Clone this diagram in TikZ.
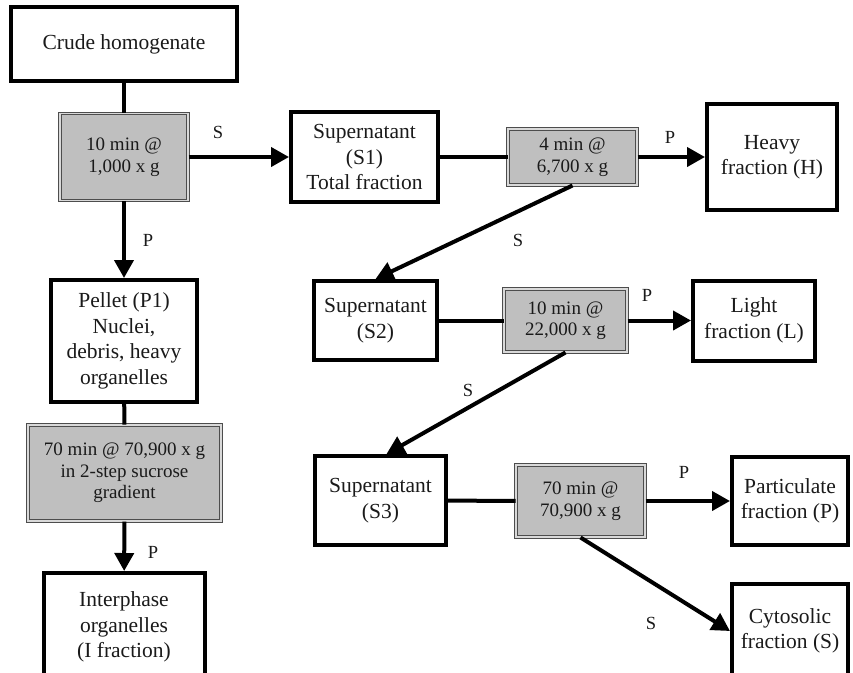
\documentclass[tikz,border=0pt]{standalone}
\usepackage{fontspec}
\setmainfont{Liberation Serif}
\usepackage{xcolor}
\definecolor{spinfill}{HTML}{BFBFBF}
\definecolor{spinedge}{HTML}{4D4D4D}
\definecolor{spingap}{HTML}{D9D9D9}
\definecolor{ink}{HTML}{1A1A1A}
\usepackage{tikz}
\usetikzlibrary{positioning,arrows.meta}

\begin{document}
\begin{tikzpicture}[x=1pt, y=-1pt,
    box/.style={draw=black, line width=4pt, fill=white, align=center,
                inner sep=0pt, text=ink, font=\fontsize{21.5}{25.5}\selectfont},
    spin/.style={draw=spinedge, line width=1pt, double=spingap,
                 double distance=1.6pt, fill=spinfill, align=center,
                 inner sep=0pt, text=ink, font=\fontsize{19}{21.5}\selectfont},
    link/.style={draw=black, line width=4pt},
    flow/.style={link, -{Triangle[length=18pt, width=19pt]}},
    lab/.style={text=ink, inner sep=0pt, font=\fontsize{18.5}{20}\selectfont}]
  \clip (0,0) rectangle (853,672);
  \fill[white] (0,0) rectangle (853,672);

  % left column: first spin and pellet
  \node[box, minimum width=226pt, minimum height=74pt] (crude) at (124,44) {Crude homogenate};
  \node[spin, minimum width=128pt, minimum height=87pt] (spin1) at (124,157) {10 min @\\1,000 x g};
  \node[box, minimum width=146pt, minimum height=122pt] (pellet) at (124,341)
    {Pellet (P1)\\Nuclei,\\debris, heavy\\organelles};
  \node[spin, minimum width=193pt, minimum height=96pt] (spin5) at (124.5,473)
    {70 min @ 70,900 x g\\in 2-step sucrose\\gradient};
  \node[box, minimum width=161pt, minimum height=108pt] (inter) at (124,627)
    {Interphase\\organelles\\(I fraction)};

  % supernatant chain
  \node[box, minimum width=147pt, minimum height=90pt] (sup1) at (364.5,157)
    {Supernatant\\(S1)\\Total fraction};
  \node[spin, minimum width=129pt, minimum height=56pt] (spin2) at (572.5,157) {4 min @\\6,700 x g};
  \node[box, minimum width=130pt, minimum height=106pt] (heavy) at (772,157) {Heavy\\fraction (H)};

  \node[box, minimum width=123pt, minimum height=79pt] (sup2) at (375.5,320.5) {Supernatant\\(S2)};
  \node[spin, minimum width=123pt, minimum height=63pt] (spin3) at (565.5,320.5) {10 min @\\22,000 x g};
  \node[box, minimum width=122pt, minimum height=80pt] (light) at (754,320.5) {Light\\fraction (L)};

  \node[box, minimum width=131pt, minimum height=89pt] (sup3) at (380.5,500.5) {Supernatant\\(S3)};
  \node[spin, minimum width=129pt, minimum height=72pt] (spin4) at (580.5,501) {70 min @\\70,900 x g};
  \node[box, minimum width=116pt, minimum height=88pt] (partic) at (790,501) {Particulate\\fraction (P)};
  \node[box, minimum width=116pt, minimum height=94pt] (cyto) at (790,631) {Cytosolic\\fraction (S)};

  % connectors
  \draw[link] (crude) -- (spin1);
  \draw[flow] (spin1) -- (sup1);
  \draw[flow] (spin1) -- (pellet);
  \draw[link] (pellet) -- (spin5);
  \draw[flow] (spin5) -- (inter);
  \draw[link] (sup1) -- (spin2);
  \draw[flow] (spin2) -- (heavy);
  \draw[flow] (spin2.south) -- (sup2.north);
  \draw[link] (sup2) -- (spin3);
  \draw[flow] (spin3) -- (light);
  \draw[flow] (spin3.south) -- ([xshift=6pt]sup3.north);
  \draw[link] (sup3) -- (spin4);
  \draw[flow] (spin4) -- (partic);
  \draw[flow] (spin4.south) -- (cyto.west);

  % S / P labels
  \node[lab] (s1) at (218,132) {S};
  \node[lab] (p1) at (148,240) {P};
  \node[lab] (p5) at (153,552) {P};
  \node[lab] (p2) at (670,137) {P};
  \node[lab] (s2) at (518,240) {S};
  \node[lab] (p3) at (647,295) {P};
  \node[lab] (s3) at (468,390) {S};
  \node[lab] (p4) at (684,472) {P};
  \node[lab] (s4) at (651,623) {S};
\end{tikzpicture}
\end{document}
